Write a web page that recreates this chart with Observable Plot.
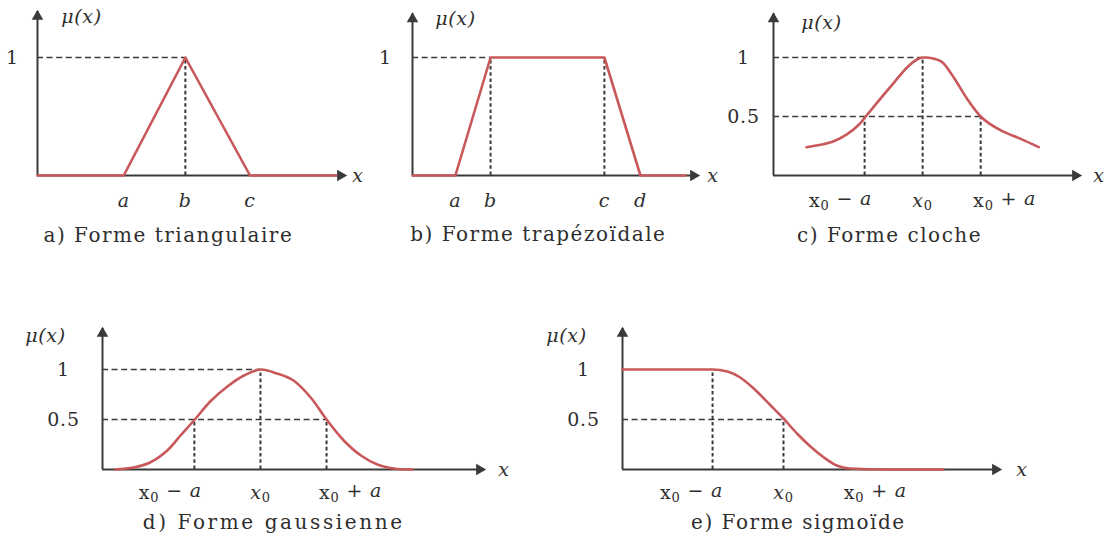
<!DOCTYPE html>
<html>
<head>
<meta charset="utf-8">
<script src="https://cdn.jsdelivr.net/npm/d3@7"></script>
<script src="https://cdn.jsdelivr.net/npm/@observablehq/plot@0.6"></script>
<style>
  html, body { margin: 0; padding: 0; background: #fff; }
  #chart { position: relative; width: 1107px; height: 545px; overflow: hidden; background: #fff; }
  #chart svg { position: absolute; left: 0; top: 0; }
  #chart .cap text { letter-spacing: 1.5px; }
  #chart .capwide text { letter-spacing: 2.6px; }
  #chart .ticklab text { letter-spacing: 0.8px; }
  #chart .ylab text { letter-spacing: 0.8px; }
  #chart .mu text { letter-spacing: 0.6px; }
</style>
</head>
<body>
<div id="chart"></div>
<script>
// ---------- Data (values in each panel's own x units) ----------
// a) triangular
const triX = [0, 2.8, 4.8, 6.9, 9.7];
const triY = [0, 0, 1, 0, 0];
const triTickLabels = ["a", "b", "c"];
const triTickX = [2.8, 4.8, 6.9];

// b) trapezoidal
const trapX = [0, 1.5, 2.73, 6.71, 7.97, 9.55];
const trapY = [0, 0, 1, 1, 0, 0];
const trapTickLabels = ["a", "b", "c", "d"];
const trapTickX = [1.5, 2.73, 6.71, 7.97];

// c) bell (x0 = 0, a = 1)
const bellX = [-2.0, -1.76, -1.53, -1.30, -1.10, -0.98, -0.73, -0.49, -0.26, -0.09, 0.02, 0.20, 0.31, 0.38, 0.55, 0.78, 1.0, 1.15, 1.40, 1.69, 2.0];
const bellY = [0.24, 0.26, 0.29, 0.35, 0.43, 0.50, 0.65, 0.79, 0.92, 0.985, 1.0, 0.99, 0.97, 0.94, 0.82, 0.64, 0.50, 0.44, 0.37, 0.31, 0.24];

// d) gaussian
const gaussX = [-2.20, -1.92, -1.67, -1.41, -1.21, -0.98, -0.76, -0.50, -0.25, 0, 0.25, 0.50, 0.76, 1.0, 1.26, 1.52, 1.77, 2.02, 2.30];
const gaussY = [0, 0.02, 0.07, 0.19, 0.34, 0.51, 0.68, 0.83, 0.94, 1.0, 0.96, 0.89, 0.72, 0.50, 0.29, 0.14, 0.05, 0.01, 0];

// e) sigmoid
const sigX = [-2.27, -1.0, -0.79, -0.61, -0.42, -0.18, 0, 0.19, 0.38, 0.57, 0.75, 0.94, 1.45, 2.25];
const sigY = [1.0, 1.0, 0.98, 0.92, 0.81, 0.64, 0.51, 0.36, 0.23, 0.12, 0.04, 0.01, 0, 0];

const x0TickLabels = ["x0 − a", "x0", "x0 + a"];
const x0TickX = [-1, 0, 1];

const yTicks1 = [1];
const yTicks2 = [0.5, 1];
const yTickLabels1 = ["1"];
const yTickLabels2 = ["0.5", "1"];

const captions = ["a) Forme triangulaire", "b) Forme trapézoïdale", "c) Forme cloche", "d) Forme gaussienne", "e) Forme sigmoïde"];

// ---------- Styles ----------
const RED = "#c9585b";
const AX = "#3a3a3a";
const TXT = "#2e2e2e";
const FONT = "'DejaVu Serif', 'Liberation Serif', serif";
const W = 1107, H = 545;

function panel(cfg) {
  const [xMin, xMax] = cfg.xDomain;
  const n = cfg.curveX.length;
  const marks = [
    // guides
    Plot.ruleY(cfg.hGuides, {y: "y", x1: xMin, x2: "x", stroke: AX, strokeWidth: 1.4, strokeDasharray: "6,3.6"}),
    Plot.ruleX(cfg.vGuides, {x: "x", y1: 0, y2: "y", stroke: AX, strokeWidth: 2, strokeDasharray: "3.6,2.6"}),
    // axes
    Plot.ruleY([0], {x1: xMin, x2: xMax, stroke: AX, strokeWidth: 2}),
    Plot.ruleX([xMin], {y1: 0, y2: cfg.yTop, stroke: AX, strokeWidth: 2}),
    Plot.dot([0], {x: xMax, y: 0, symbol: "triangle", rotate: 90, r: 4.3, fill: AX, stroke: "none", dx: -5}),
    Plot.dot([0], {x: xMin, y: cfg.yTop, symbol: "triangle", r: 4.3, fill: AX, stroke: "none", dy: 5}),
    // curve
    Plot.line(d3.range(n), {x: cfg.curveX, y: cfg.curveY, stroke: RED, strokeWidth: 2.6, curve: cfg.curve, strokeLinejoin: "round"}),
    // y tick labels
    Plot.text(cfg.yTicks, {x: xMin, y: d => d, text: (d, i) => cfg.yLabels[i], dx: cfg.yLabelDx, fill: TXT, fontSize: 19, fontFamily: FONT, className: "ylab"}),
    // x tick labels
    Plot.text(d3.range(cfg.tickX.length), {x: i => cfg.tickX[i], y: 0, text: i => cfg.tickLabels[i], dy: cfg.tickDy, fill: TXT, fontSize: 19, fontFamily: FONT, className: "ticklab"}),
    // axis titles
    Plot.text(["μ(x)"], {x: xMin, y: cfg.muY, dx: cfg.muDx, fill: TXT, fontSize: 19, fontStyle: "italic", fontFamily: FONT, className: "mu"}),
    Plot.text(["x"], {x: xMax, y: 0, dx: cfg.xLabDx, fill: TXT, fontSize: 19, fontStyle: "italic", fontFamily: FONT}),
    // caption
    Plot.text([cfg.caption], {x: cfg.capX, y: 0, dy: cfg.capDy, fill: TXT, fontSize: 20, fontFamily: FONT, className: cfg.capClass || "cap"})
  ];
  const svg = Plot.plot({
    width: W, height: H,
    x: {domain: cfg.xDomain, range: cfg.xRange, axis: null},
    y: {domain: [0, 1], range: cfg.yRange, axis: null},
    style: {background: "transparent", overflow: "visible"},
    marks
  });
  // rich tick labels: subscripts and italics
  const ns = "http://www.w3.org/2000/svg";
  svg.querySelectorAll("g.ticklab text").forEach(t => {
    const s = t.textContent;
    const m = s.match(/^x0(.*)$/);
    if (!m) { t.style.fontStyle = "italic"; return; }
    t.textContent = "";
    const add = (str, attrs, style) => {
      const ts = document.createElementNS(ns, "tspan");
      ts.textContent = str;
      for (const k in attrs) ts.setAttribute(k, attrs[k]);
      for (const k in style) ts.style[k] = style[k];
      t.appendChild(ts);
    };
    const rest = m[1].trim();
    add("x", {}, {fontStyle: rest ? "normal" : "italic"});
    add("0", {dy: "0.3em"}, {fontSize: "13px"});
    if (rest) {
      add(" " + rest[0] + " ", {dy: "-0.3em"}, {});
      add("a", {}, {fontStyle: "italic"});
      t.setAttribute("transform", (t.getAttribute("transform") || "") + ` translate(${rest[0] === "−" ? -cfg.sideShift : cfg.sideShift},0)`);
    }
  });
  return svg;
}

const hv = (xs, ys) => xs.map((x, i) => ({x, y: ys[i]}));

const panels = [
  { // a
    xDomain: [0, 10], xRange: [37, 345], yRange: [175, 57], yTop: 1.39,
    curveX: triX, curveY: triY, curve: "linear",
    hGuides: hv([triTickX[1]], [1]), vGuides: hv([triTickX[1]], [1]),
    yTicks: yTicks1, yLabels: yTickLabels1, yLabelDx: -25,
    tickX: triTickX, tickLabels: triTickLabels, tickDy: 25, sideShift: 0,
    muY: 1.34, muDx: 44, xLabDx: 12, caption: captions[0], capX: 4.25, capDy: 60
  },
  { // b
    xDomain: [0, 10], xRange: [412, 698], yRange: [175, 57], yTop: 1.37,
    curveX: trapX, curveY: trapY, curve: "linear",
    hGuides: hv([trapTickX[1]], [1]), vGuides: hv([trapTickX[1], trapTickX[2]], [1, 1]),
    yTicks: yTicks1, yLabels: yTickLabels1, yLabelDx: -27,
    tickX: trapTickX, tickLabels: trapTickLabels, tickDy: 25, sideShift: 0,
    muY: 1.33, muDx: 43, xLabDx: 14, caption: captions[1], capX: 4.4, capDy: 59
  },
  { // c
    xDomain: [-2.57, 2.72], xRange: [773, 1080], yRange: [175, 57], yTop: 1.37,
    curveX: bellX, curveY: bellY, curve: "catmull-rom",
    hGuides: hv([0, 1], [1, 0.5]), vGuides: hv([-1, 0, 1], [0.5, 1, 0.5]),
    yTicks: yTicks2, yLabels: yTickLabels2, yLabelDx: -30,
    tickX: x0TickX, tickLabels: x0TickLabels, tickDy: 25, sideShift: 24,
    muY: 1.29, muDx: 48, xLabDx: 18, caption: captions[2], capX: -0.57, capDy: 60
  },
  { // d
    xDomain: [-2.39, 3.39], xRange: [102, 484], yRange: [469, 369], yTop: 1.41,
    curveX: gaussX, curveY: gaussY, curve: "catmull-rom",
    hGuides: hv([0, 1], [1, 0.5]), vGuides: hv([-1, 0, 1], [0.5, 1, 0.5]),
    yTicks: yTicks2, yLabels: yTickLabels2, yLabelDx: -39,
    tickX: x0TickX, tickLabels: x0TickLabels, tickDy: 23, sideShift: 24,
    muY: 1.34, muDx: -57, xLabDx: 19, caption: captions[3], capX: 0.2, capDy: 53, capClass: "capwide"
  },
  { // e
    xDomain: [-2.27, 3.06], xRange: [622, 1000], yRange: [469, 369], yTop: 1.41,
    curveX: sigX, curveY: sigY, curve: "monotone-x",
    hGuides: hv([0], [0.5]), vGuides: hv([-1, 0], [1, 0.5]),
    yTicks: yTicks2, yLabels: yTickLabels2, yLabelDx: -39,
    tickX: x0TickX, tickLabels: x0TickLabels, tickDy: 23, sideShift: 21,
    muY: 1.34, muDx: -56, xLabDx: 21, caption: captions[4], capX: 0.21, capDy: 53
  }
];

const root = document.getElementById("chart");
for (const cfg of panels) root.appendChild(panel(cfg));
</script>
</body>
</html>
